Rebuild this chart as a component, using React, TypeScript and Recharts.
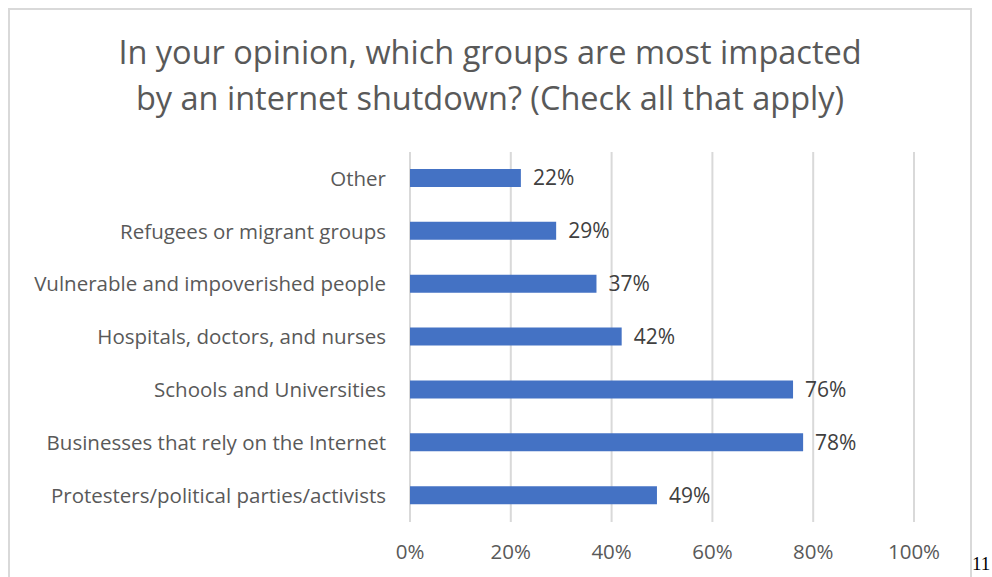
import React from "react";
import { BarChart, Bar, XAxis, YAxis, CartesianGrid, LabelList } from "recharts";

const categories = [
  "Other",
  "Refugees or migrant groups",
  "Vulnerable and impoverished people",
  "Hospitals, doctors, and nurses",
  "Schools and Universities",
  "Businesses that rely on the Internet",
  "Protesters/political parties/activists",
];
const shares = [22, 29, 37, 42, 76, 78, 49];
const xTicks = [0, 20, 40, 60, 80, 100];

const data = categories.map((name, i) => ({ name, value: shares[i] }));

const FONT = "'Open Sans', Lato, sans-serif";

export default function App() {
  return (
    // fixed, page-sized frame: the box runs past the bottom edge without adding a scrollbar
    <div
      style={{
        position: "fixed",
        left: 0,
        top: 0,
        width: 992,
        height: 577,
        overflow: "hidden",
        background: "#fff",
        fontFamily: FONT,
      }}
    >
      <div
        style={{
          position: "absolute",
          left: 8,
          top: 8,
          width: 960,
          height: 600,
          border: "2px solid #d9d9d9",
        }}
      >
        <div
          style={{
            position: "absolute",
            left: 0,
            top: 19,
            width: 960,
            textAlign: "center",
            fontSize: 32.5,
            lineHeight: "46px",
            color: "#595959",
          }}
        >
          In your opinion, which groups are most impacted
          <br />
          by an internet shutdown? (Check all that apply)
        </div>
        <BarChart
          width={960}
          height={600}
          data={data}
          layout="vertical"
          barCategoryGap={0}
          margin={{ top: 142, right: 56, bottom: 48, left: 0 }}
        >
          <CartesianGrid horizontal={false} stroke="#d9d9d9" strokeWidth={2} />
          <XAxis
            type="number"
            domain={[0, 100]}
            ticks={xTicks}
            tickFormatter={(v: number) => `${v}%`}
            axisLine={false}
            tickLine={false}
            tickSize={0}
            tickMargin={22}
            height={40}
            tick={{ fontSize: 20.5, fill: "#595959", fontFamily: FONT }}
          />
          <YAxis
            type="category"
            dataKey="name"
            width={400}
            axisLine={false}
            tickLine={false}
            tickSize={0}
            tickMargin={24}
            tick={{ fontSize: 20.5, fill: "#595959", fontFamily: FONT }}
          />
          <Bar dataKey="value" fill="#4472C4" barSize={18} isAnimationActive={false}>
            <LabelList
              dataKey="value"
              position="right"
              offset={12}
              formatter={(v: number) => `${v}%`}
              style={{ fontSize: 21, fill: "#404040", fontFamily: FONT }}
            />
          </Bar>
        </BarChart>
      </div>
      <div
        style={{
          position: "absolute",
          left: 972,
          top: 554,
          whiteSpace: "nowrap",
          fontFamily: "'Liberation Serif', serif",
          fontSize: 19,
          lineHeight: "19px",
          color: "#000",
        }}
      >
        11
      </div>
    </div>
  );
}
